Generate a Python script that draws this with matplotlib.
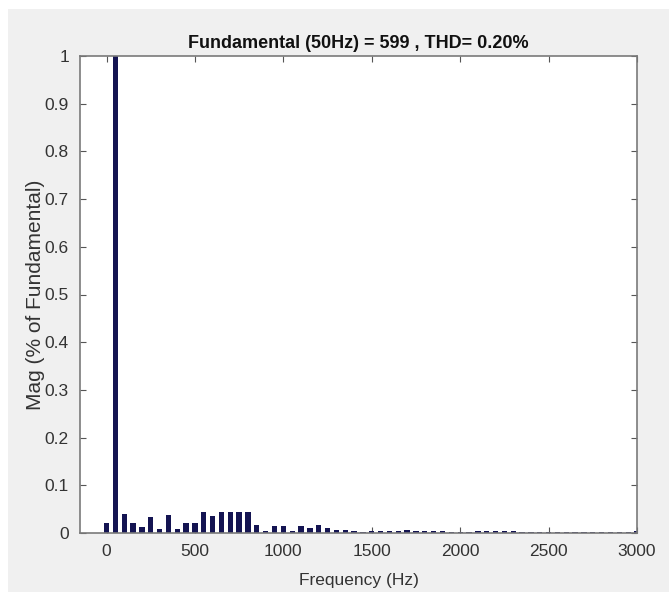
import matplotlib
matplotlib.use("Agg")
import matplotlib.pyplot as plt
from matplotlib.patches import Rectangle

# Harmonic spectrum (frequency in Hz, magnitude relative to fundamental)
freqs = list(range(0, 3001, 50))
mags = [
    0.020, 1.000, 0.039, 0.021, 0.013, 0.033, 0.009, 0.038, 0.008, 0.020,
    0.022, 0.043, 0.035, 0.043, 0.044, 0.044, 0.043, 0.017, 0.004, 0.015,
    0.015, 0.005, 0.015, 0.010, 0.017, 0.0105, 0.006, 0.007, 0.005, 0.003,
    0.004, 0.004, 0.005, 0.005, 0.006, 0.005, 0.004, 0.004, 0.0035, 0.003,
    0.003, 0.003, 0.004, 0.004, 0.004, 0.005, 0.004, 0.003, 0.003, 0.003,
    0.003, 0.003, 0.003, 0.003, 0.003, 0.003, 0.003, 0.003, 0.003, 0.003,
    0.004,
]
title_text = "Fundamental (50Hz) = 599 , THD= 0.20%"
x_label = "Frequency (Hz)"
y_label = "Mag (% of Fundamental)"
x_ticks = [0, 500, 1000, 1500, 2000, 2500, 3000]
y_ticks = [0, 0.1, 0.2, 0.3, 0.4, 0.5, 0.6, 0.7, 0.8, 0.9, 1]

plt.rcParams['font.family'] = ['Liberation Sans', 'DejaVu Sans']

W, H = 669, 594
fig = plt.figure(figsize=(W / 100, H / 100), dpi=100, facecolor='white')
# gray figure panel
fig.patches.append(Rectangle((8 / W, 2 / H), 1 - 8 / W, 1 - 11 / H,
                             transform=fig.transFigure, facecolor='#f0f0f0',
                             edgecolor='none', zorder=-10))

ax = fig.add_axes([80 / W, 61 / H, 557 / W, 477 / H])
ax.set_facecolor('white')
ax.bar(freqs, mags, width=30, color='#141452', edgecolor='none', zorder=2)
ax.set_xlim(-150, 3000)
ax.set_ylim(0, 1)
ax.set_xticks(x_ticks)
ax.set_xticklabels([str(t) for t in x_ticks])
ax.set_yticks(y_ticks)
ax.set_yticklabels([('%g' % t) for t in y_ticks])
ax.tick_params(direction='in', top=True, right=True, length=4, width=0.8,
               color='#555555', labelsize=12.5, labelcolor='#333333', pad=8)
for s in ax.spines.values():
    s.set_color('#7a7a7a')
    s.set_linewidth(1.2)

ax.set_title(title_text, fontsize=13, fontweight='bold', color='#111111', pad=6)
ax.set_xlabel(x_label, fontsize=12.5, color='#333333', labelpad=10)
ax.set_ylabel(y_label, fontsize=15, color='#333333', labelpad=0)

fig.savefig('out.png', dpi=100, facecolor=fig.get_facecolor())
